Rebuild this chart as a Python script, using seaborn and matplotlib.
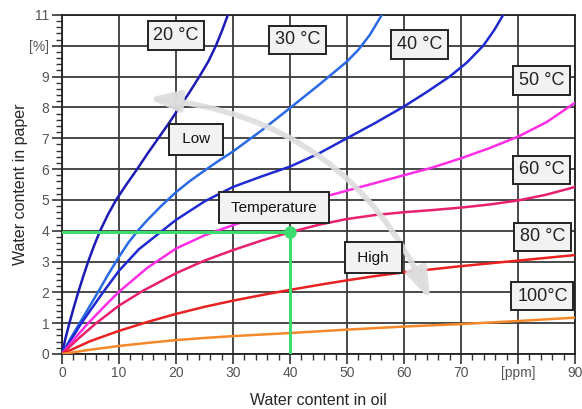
import pandas as pd
import seaborn as sns
import matplotlib.pyplot as plt
from matplotlib.patches import FancyArrowPatch
from matplotlib.ticker import MultipleLocator

# 온도별 곡선 (물 함량: 오일 [ppm] -> 종이 [%])
temps = ['20', '30', '40', '50', '60', '80', '100']

oil_20 = [0, 0.6, 1.3, 2.05, 2.85, 3.7, 4.6, 5.6, 6.7, 8.0, 9.5, 11.3, 13.2, 15.0, 16.9,
          18.8, 20.6, 22.4, 24.1, 25.7, 27.0, 28.1, 29.1]
paper_20 = [0, 0.5, 1, 1.5, 2, 2.5, 3, 3.5, 4, 4.5, 5, 5.5, 6, 6.5, 7, 7.5, 8, 8.5, 9,
            9.5, 10, 10.5, 11]

oil_30 = [0, 1.5, 3.1, 4.7, 6.3, 8.1, 10, 11.6, 13.3, 15, 17.5, 20, 22.5, 25, 27.5, 30,
          35, 40, 45, 50, 52, 54, 56.1]
paper_30 = [0, 0.5, 1, 1.5, 2, 2.58, 3.15, 3.6, 4.0, 4.35, 4.82, 5.25, 5.62, 5.95, 6.27,
            6.57, 7.25, 7.98, 8.72, 9.49, 9.87, 10.35, 11]

oil_40 = [0, 1.7, 3.4, 5.3, 7.2, 10, 13.5, 17.4, 20, 25, 30, 35, 40, 45, 50, 55, 60, 64,
          68, 71, 73.9, 75.8, 77.4]
paper_40 = [0, 0.5, 1, 1.5, 2, 2.7, 3.4, 3.97, 4.35, 4.95, 5.42, 5.76, 6.08, 6.5, 7.0,
            7.5, 8.03, 8.5, 9.0, 9.45, 10.0, 10.5, 11]

oil_50 = [0, 2.3, 4.6, 7.3, 10, 15, 20, 25, 30, 35, 40, 45, 50, 55, 60, 65, 70, 75, 80,
          85, 90]
paper_50 = [0, 0.52, 1, 1.52, 2.02, 2.8, 3.42, 3.85, 4.18, 4.49, 4.77, 5.05, 5.3, 5.55,
            5.8, 6.05, 6.35, 6.68, 7.05, 7.52, 8.15]

oil_60 = [0, 3, 6, 10, 14.2, 20, 25, 30, 35, 40, 45, 50, 55, 60, 65, 70, 75, 80, 85, 90]
paper_60 = [0, 0.52, 1, 1.57, 2.05, 2.62, 3.03, 3.37, 3.68, 3.95, 4.19, 4.38, 4.51, 4.6,
            4.67, 4.75, 4.85, 4.98, 5.17, 5.42]

oil_80 = [0, 5, 10, 15, 20, 25, 30, 35, 40, 45, 50, 55, 60, 65, 70, 75, 80, 85, 90]
paper_80 = [0, 0.42, 0.75, 1.04, 1.3, 1.53, 1.73, 1.91, 2.08, 2.24, 2.39, 2.53, 2.65,
            2.75, 2.85, 2.94, 3.03, 3.12, 3.21]

oil_100 = [0, 5, 10, 15, 20, 25, 30, 35, 40, 50, 60, 70, 80, 90]
paper_100 = [0, 0.14, 0.26, 0.36, 0.45, 0.52, 0.58, 0.63, 0.68, 0.79, 0.89, 0.97, 1.07,
             1.18]

x_ticks = [0, 10, 20, 30, 40, 50, 60, 70, 80, 90]
x_ticklabels = ['0', '10', '20', '30', '40', '50', '60', '70', '[ppm]', '90']
y_ticks = [0, 1, 2, 3, 4, 5, 6, 7, 8, 9, 10, 11]
y_ticklabels = ['0', '1', '2', '3', '4', '5', '6', '7', '8', '9', '[%]', '11']

# 예시 읽기값: 40 ppm -> 약 3.95 %
read_oil = 40
read_paper = 3.95

#%%
curves = {'20': (oil_20, paper_20), '30': (oil_30, paper_30), '40': (oil_40, paper_40),
          '50': (oil_50, paper_50), '60': (oil_60, paper_60), '80': (oil_80, paper_80),
          '100': (oil_100, paper_100)}
df = pd.concat([pd.DataFrame({'oil': x, 'paper': y, 'temp': t}) for t, (x, y) in curves.items()],
               ignore_index=True)

colors = {'20': '#1c1cb4', '30': '#2a6ae6', '40': '#1f2ad0', '50': '#ff2ee6',
          '60': '#e8206e', '80': '#e82222', '100': '#f4882a'}

sns.set_style('white')
plt.rcParams['font.family'] = ['Liberation Sans', 'DejaVu Sans']

fig = plt.figure(figsize=(5.82, 4.09), dpi=100)
ax = fig.add_axes([0.1065, 0.1345, 0.8814, 0.8289])

sns.lineplot(data=df, x='oil', y='paper', hue='temp', palette=colors, sort=False,
             estimator=None, legend=False, linewidth=1.8, ax=ax, zorder=3)

# 녹색 읽기선
ax.plot([0, read_oil], [read_paper, read_paper], color='#3ddc6e', lw=2.2, zorder=4)
ax.plot([read_oil, read_oil], [0, read_paper], color='#3ddc6e', lw=2.2, zorder=4)
ax.plot([read_oil], [read_paper], 'o', color='#3ddc6e', ms=8, zorder=5)

# 회색 곡선 화살표 (Low <-> High)
arr = FancyArrowPatch((15.1, 8.3), (64.6, 1.75), connectionstyle='arc3,rad=-0.29',
                      arrowstyle='<|-|>,head_length=1.3,head_width=0.45', mutation_scale=14,
                      color='#dddddd', lw=4, zorder=6, alpha=0.9, shrinkA=0, shrinkB=0)
ax.add_patch(arr)

box = dict(boxstyle='square,pad=0.32', fc='#f2f2f2', ec='#222222', lw=1.4)
for txt, x, y in [('20 °C', 20.0, 10.33), ('30 °C', 41.3, 10.19), ('40 °C', 62.7, 10.05),
                  ('50 °C', 84.2, 8.88), ('60 °C', 84.2, 5.97), ('80 °C', 84.3, 3.8),
                  ('100°C', 84.3, 1.88)]:
    ax.text(x, y, txt, fontsize=13, ha='center', va='center', color='#222222',
            bbox=box, zorder=7)

box2 = dict(boxstyle='square,pad=0.55', fc='#f2f2f2', ec='#222222', lw=1.4)
for txt, x, y in [(' Low ', 23.5, 6.96), (' Temperature ', 37.2, 4.74), (' High ', 54.6, 3.13)]:
    ax.text(x, y, txt, fontsize=11, ha='center', va='center', color='#111111',
            bbox=box2, zorder=7)

ax.set_xlim(0, 90)
ax.set_ylim(0, 11)
ax.set_xticks(x_ticks)
ax.set_xticklabels(x_ticklabels)
ax.set_yticks(y_ticks)
ax.set_yticklabels(y_ticklabels)
ax.xaxis.set_minor_locator(MultipleLocator(2))
ax.yaxis.set_minor_locator(MultipleLocator(0.2))
ax.tick_params(which='major', direction='out', length=7, width=1.2, color='#333333',
               labelsize=10, labelcolor='#555555', pad=2, bottom=True, left=True)
ax.tick_params(which='minor', direction='out', length=4, width=1, color='#333333',
               bottom=True, left=True)

ax.grid(True, which='major', color='#3a3a3a', lw=1.3)
ax.set_axisbelow(True)
for s in ax.spines.values():
    s.set_color('#222222')
    s.set_linewidth(1.3)

ax.set_xlabel('Water content in oil', fontsize=11.5, labelpad=9)
ax.set_ylabel('Water content in paper', fontsize=11.5, labelpad=1)

fig.savefig('out.png', dpi=100)
